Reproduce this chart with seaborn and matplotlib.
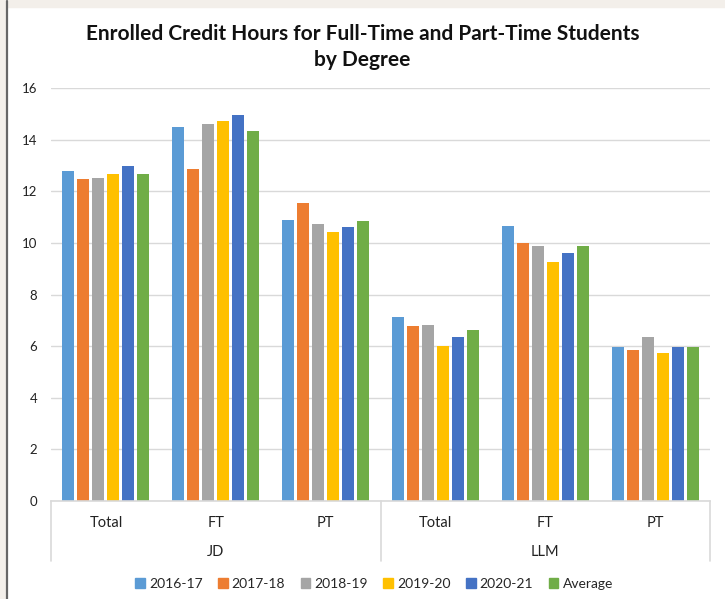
import matplotlib
matplotlib.use("Agg")
import matplotlib.pyplot as plt
from matplotlib.patches import Rectangle
from matplotlib.lines import Line2D
import seaborn as sns
import pandas as pd

# data
degrees = ["JD", "JD", "JD", "LLM", "LLM", "LLM"]
subgroups = ["Total", "FT", "PT", "Total", "FT", "PT"]
years = ["2016-17", "2017-18", "2018-19", "2019-20", "2020-21", "Average"]

v_2016_17 = [12.80, 14.50, 10.88, 7.14, 10.67, 5.96]
v_2017_18 = [12.48, 12.87, 11.56, 6.77, 9.99, 5.85]
v_2018_19 = [12.52, 14.59, 10.75, 6.83, 9.87, 6.35]
v_2019_20 = [12.66, 14.72, 10.42, 6.01, 9.25, 5.72]
v_2020_21 = [12.96, 14.94, 10.62, 6.35, 9.60, 5.97]
v_average = [12.68, 14.32, 10.85, 6.62, 9.87, 5.97]

colors = ["#5B9BD5", "#ED7D31", "#A5A5A5", "#FFC000", "#4472C4", "#70AD47"]

series = [v_2016_17, v_2017_18, v_2018_19, v_2019_20, v_2020_21, v_average]
cats = [f"{d} {s}" for d, s in zip(degrees, subgroups)]
rows = []
for yr, vals in zip(years, series):
    for c, v in zip(cats, vals):
        rows.append({"cat": c, "year": yr, "hours": v})
df = pd.DataFrame(rows)

sns.set_style("white")
plt.rcParams["font.family"] = ["Lato", "DejaVu Sans"]

fig = plt.figure(figsize=(7.25, 5.99), dpi=100)
W, H = 725, 599

# screenshot frame: beige strip on top/left and a dark border line
fig.patches.append(Rectangle((0, 1 - 7 / H), 1, 7 / H, transform=fig.transFigure,
                             color="#f3efea", zorder=0))
fig.patches.append(Rectangle((0, 0), 6 / W, 1, transform=fig.transFigure,
                             color="#f3efea", zorder=0))
fig.lines.append(Line2D([7 / W, 7 / W], [0, 1 - 1 / H], transform=fig.transFigure,
                        color="#666666", lw=1.6))

ax = fig.add_axes([51 / W, 1 - 501 / H, (710 - 51) / W, (501 - 88) / H])
sns.barplot(data=df, x="cat", y="hours", hue="year", palette=colors,
            order=cats, hue_order=years, width=0.82, gap=0.2, saturation=1,
            linewidth=0, ax=ax, legend=True)

ax.set_ylim(0, 16)
ax.set_xlim(-0.5, 5.5)
ax.set_yticks(range(0, 17, 2))
ax.grid(axis="y", color="#d9d9d9", lw=1)
ax.set_axisbelow(True)
for s in ["top", "right", "left"]:
    ax.spines[s].set_visible(False)
ax.spines["bottom"].set_color("#d9d9d9")
ax.spines["bottom"].set_linewidth(1.2)
ax.tick_params(axis="y", length=0, labelsize=9.5, labelcolor="#222222", pad=10)
ax.tick_params(axis="x", length=0, labelsize=10.5, labelcolor="#222222", pad=11)
ax.set_xticks(range(6))
ax.set_xticklabels(subgroups)
ax.set_xlabel("")
ax.set_ylabel("")

# second level of the category axis
tr = ax.get_xaxis_transform()
for x in [-0.5, 2.5, 5.5]:
    ax.plot([x, x], [0, -60 / (501 - 88)], transform=tr, color="#d9d9d9",
            lw=1.2, clip_on=False)
for x, lab in [(1, "JD"), (4, "LLM")]:
    ax.text(x, -51 / (501 - 88), lab, transform=tr, ha="center", va="center",
            fontsize=10.5, color="#222222")

ax.legend_.remove()
handles = [Rectangle((0, 0), 1, 1, color=c) for c in colors]
fig.legend(handles, years, loc="center", bbox_to_anchor=(374 / W, 1 - 584 / H),
           ncol=6, frameon=False, fontsize=10, handlelength=0.7, handleheight=0.7,
           handletextpad=0.3, columnspacing=1.1)

fig.text(0.5, 1 - 47 / H, "Enrolled Credit Hours for Full-Time and Part-Time Students\nby Degree",
         ha="center", va="center", fontsize=15, fontweight="bold", color="#111111",
         linespacing=1.4)

fig.savefig("out.png", dpi=100, facecolor="white")
